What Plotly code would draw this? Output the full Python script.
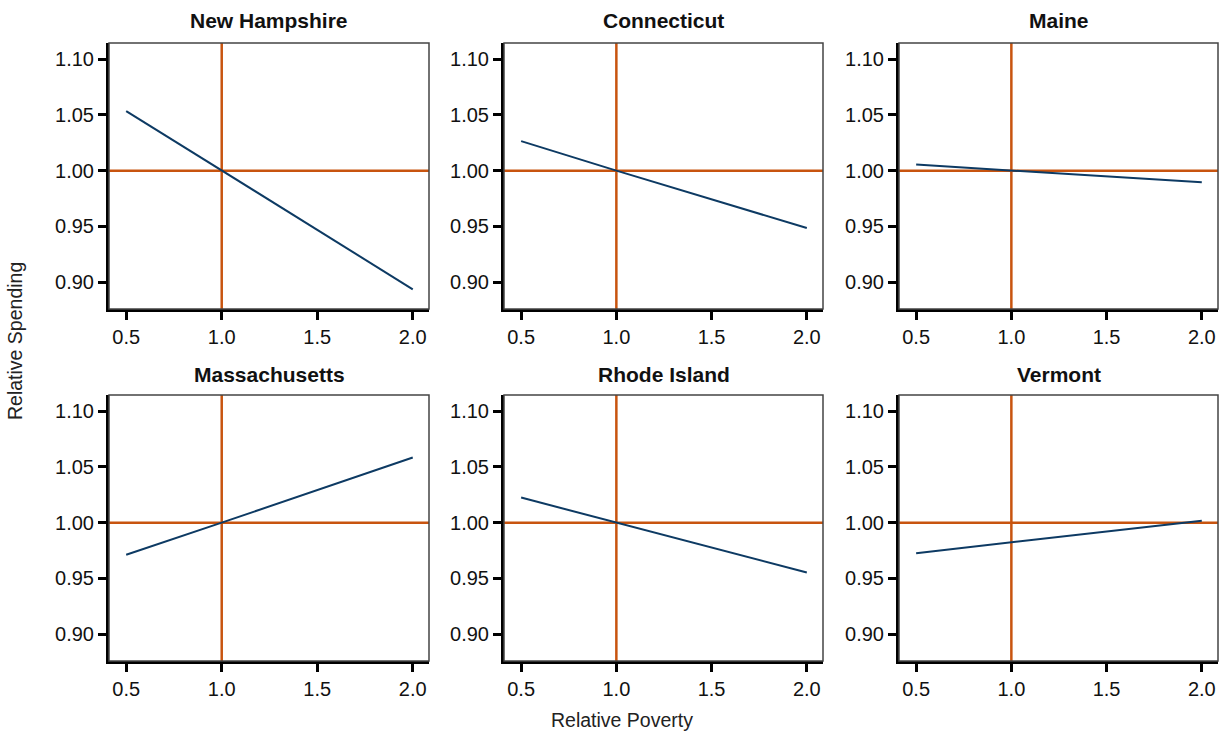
import plotly.graph_objects as go
from plotly.subplots import make_subplots

states = ["New Hampshire", "Connecticut", "Maine", "Massachusetts", "Rhode Island", "Vermont"]
poverty = [0.5, 1.0, 2.0]
spending = {
    "New Hampshire": [1.0535, 1.0, 0.8935],
    "Connecticut": [1.0265, 1.0, 0.9485],
    "Maine": [1.0055, 1.0, 0.9895],
    "Massachusetts": [0.9712, 1.0, 1.0585],
    "Rhode Island": [1.0225, 1.0, 0.9553],
    "Vermont": [0.9726, 0.9822, 1.0018],
}
ref_x = 1.0
ref_y = 1.0
x_ticks = [0.5, 1.0, 1.5, 2.0]
y_ticks = [0.90, 0.95, 1.00, 1.05, 1.10]

W, H = 1226, 732
FONT = "Liberation Sans, Arial, sans-serif"
NAVY = "#0d3a63"
ORANGE = "#c8540f"

xdom = [(109, 429), (504, 823), (899, 1218)]
ydom = [(43, 309), (395, 661)]

fig = make_subplots(rows=2, cols=3)

for i, s in enumerate(states):
    r, c = i // 3 + 1, i % 3 + 1
    fig.add_trace(go.Scatter(x=poverty, y=spending[s], mode="lines",
                             line=dict(color=NAVY, width=2), showlegend=False),
                  row=r, col=c)
    fig.add_vline(x=ref_x, line=dict(color=ORANGE, width=2.5), row=r, col=c, layer="below")
    fig.add_hline(y=ref_y, line=dict(color=ORANGE, width=2.5), row=r, col=c, layer="below")
    idx = "" if i == 0 else str(i + 1)
    fig.add_shape(type="rect", xref=f"x{idx} domain", yref=f"y{idx} domain",
                  x0=0, x1=1, y0=0, y1=1, line=dict(color="#444", width=1.5), layer="above")
    x0, x1 = xdom[c - 1]
    y0, y1 = ydom[r - 1]
    fig.update_xaxes(domain=[x0 / W, x1 / W], range=[0.41, 2.085], tickvals=x_ticks,
                     tickformat=".1f", showline=True, linecolor="black", linewidth=3,
                     ticks="outside", ticklen=8, tickwidth=3, tickcolor="black",
                     showgrid=False, zeroline=False,
                     tickfont=dict(size=20, color="#111", family=FONT), row=r, col=c)
    fig.update_yaxes(domain=[1 - y1 / H, 1 - y0 / H], range=[0.8758, 1.1146], tickvals=y_ticks,
                     tickformat=".2f", showline=True, linecolor="black", linewidth=3,
                     ticks="outside", ticklen=8, tickwidth=3, tickcolor="black",
                     showgrid=False, zeroline=False,
                     tickfont=dict(size=20, color="#111", family=FONT), row=r, col=c)
    fig.add_annotation(text=f"<b>{s}</b>", xref="paper", yref="paper",
                       x=(x0 + x1) / 2 / W, y=1 - (21 if r == 1 else 375) / H,
                       xanchor="center", yanchor="middle", showarrow=False,
                       font=dict(size=21, color="#111", family=FONT))

fig.add_annotation(text="Relative Spending", xref="paper", yref="paper",
                   x=15 / W, y=1 - 341 / H, textangle=-90, showarrow=False,
                   xanchor="center", yanchor="middle",
                   font=dict(size=19.5, color="#222", family=FONT))
fig.add_annotation(text="Relative Poverty", xref="paper", yref="paper",
                   x=622 / W, y=1 - 720 / H, showarrow=False,
                   xanchor="center", yanchor="middle",
                   font=dict(size=19.5, color="#222", family=FONT))

fig.update_layout(width=W, height=H, margin=dict(l=0, r=0, t=0, b=0),
                  paper_bgcolor="white", plot_bgcolor="white",
                  font=dict(family=FONT))
fig.write_html("out.html")
